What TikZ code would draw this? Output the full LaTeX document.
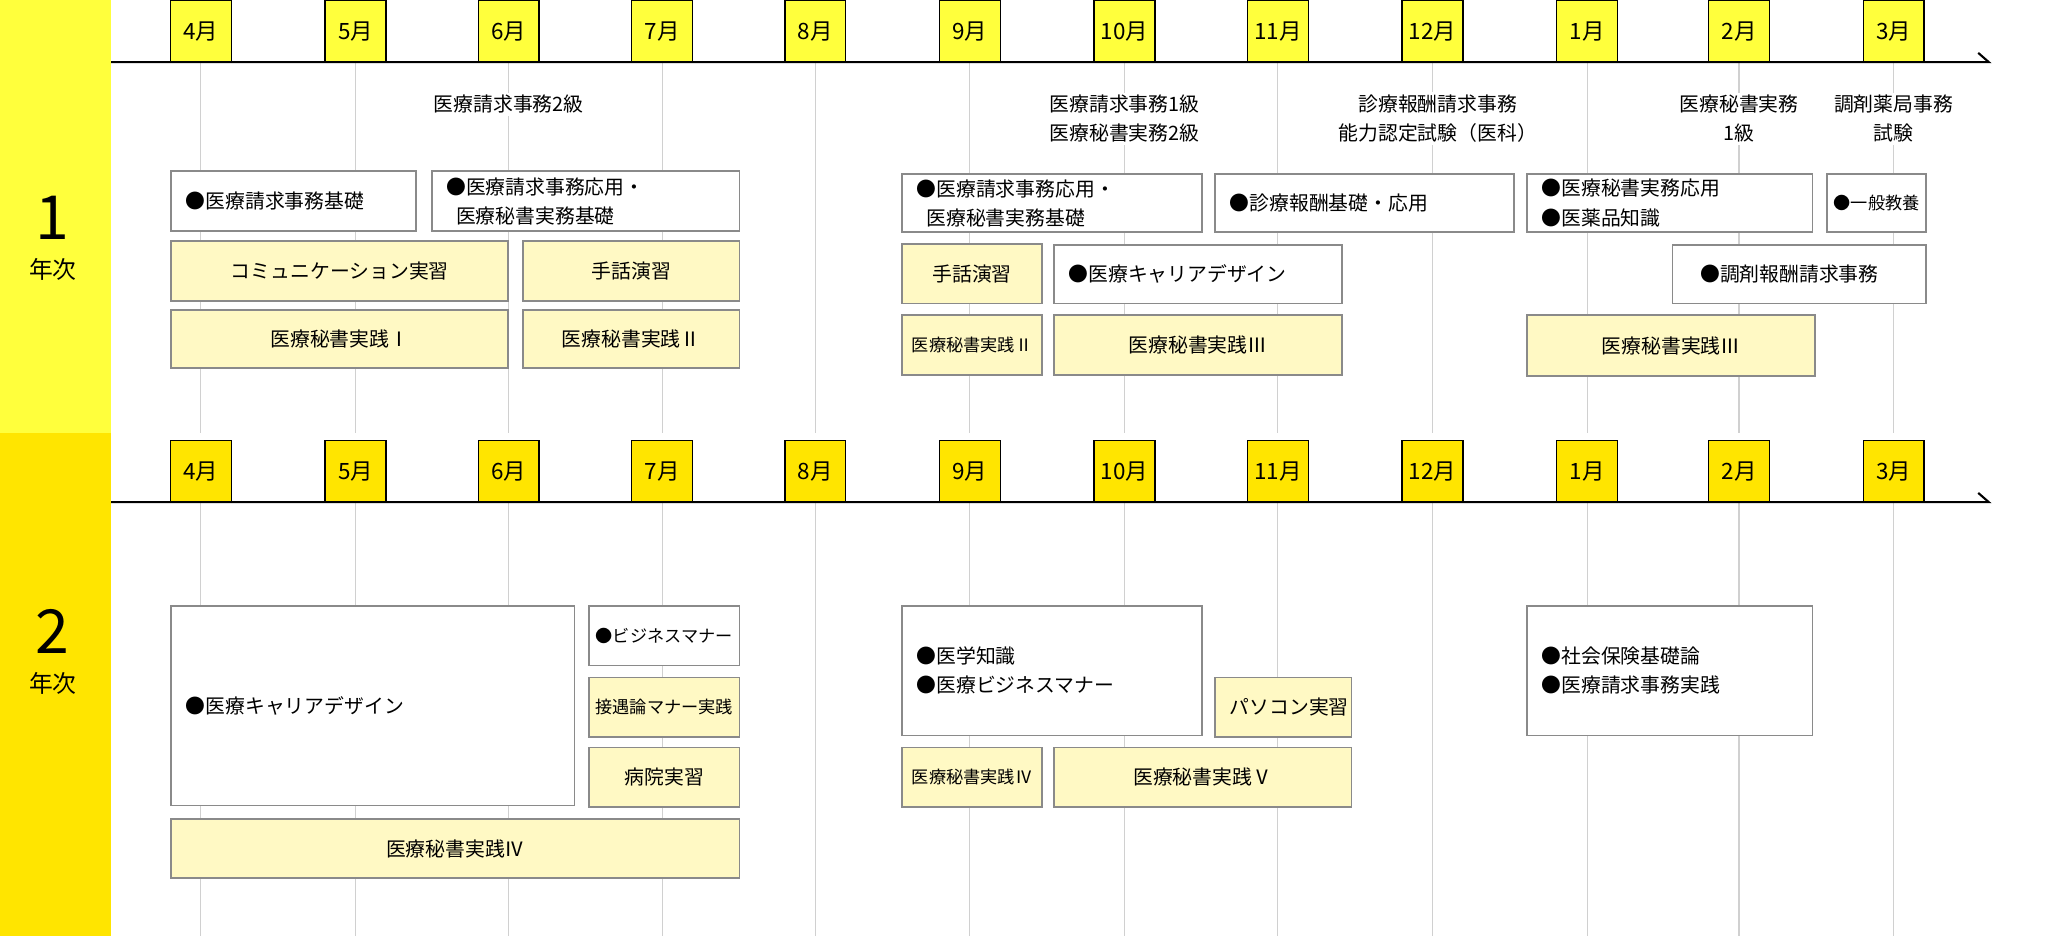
\documentclass[tikz,border=0pt]{standalone}
\usepackage{fontspec}
\setmainfont{Noto Sans CJK JP}
\definecolor{yA}{HTML}{FFFF3C}
\definecolor{yB}{HTML}{FFE500}
\definecolor{lt}{HTML}{FFF9C4}
\definecolor{bd}{HTML}{8A8A8A}
\definecolor{gl}{HTML}{D0D0D0}
\tikzset{
 every node/.style={font=\fontsize{15}{22}\selectfont,inner sep=0pt},
 wbox/.style={draw=bd,line width=1.3pt,fill=white,align=left},
 lbox/.style={draw=bd,line width=1.3pt,fill=lt,align=center},
 mon/.style={draw=black,line width=1pt,minimum width=46pt,minimum height=47pt,anchor=north,font=\fontsize{17}{20}\selectfont},
 exam/.style={fill=white,align=center,inner sep=2pt},
 sm/.style={font=\fontsize{13}{18}\selectfont},
}
\newcommand\bx[7]{\node[#1,anchor=north west,minimum width=#5pt-#3pt,minimum height=#6pt-#4pt,text width=#5pt-#3pt-22pt] (#2) at (#3,#4) {};
 \node[#1,draw=none,fill=none,text width=#5pt-#3pt-22pt] (#2t) at (#2.center) {#7};}
\begin{document}
\begin{tikzpicture}[x=1pt,y=-1pt]
\useasboundingbox (0,0) rectangle (1568,708);
\fill[yA] (0,0) rectangle (84,328);
\fill[yB] (0,328) rectangle (84,708);
\node (y1) at (40,165) {\fontsize{46}{46}\selectfont 1};
\node (y1b) at (40,204) {\fontsize{18}{20}\selectfont 年次};
\node (y2) at (40,478) {\fontsize{46}{46}\selectfont 2};
\node (y2b) at (40,517) {\fontsize{18}{20}\selectfont 年次};
\foreach \x/\m [count=\i] in {152/4,269/5,385/6,501/7,617/8,734/9,851/10,967/11,1084/12,1201/1,1316/2,1433/3}{
 \draw[gl,line width=0.8pt] (\x,47) -- (\x,328);
 \draw[gl,line width=0.8pt] (\x,380) -- (\x,708);
 \node[mon,fill=yA] (ma\i) at (\x,0) {\m 月};
 \node[mon,fill=yB] (mb\i) at (\x,333) {\m 月};
}
\coordinate (la) at (84,47); \coordinate (lb) at (1505,47);
\draw[line width=1.6pt] (la) -- (lb) -- ++(-8,-7);
\coordinate (lc) at (84,380); \coordinate (ld) at (1505,380);
\draw[line width=1.6pt] (lc) -- (ld) -- ++(-8,-7);
% exams
\node[exam] (e1) at (385,79) {医療請求事務2級};
\node[exam] (e2) at (851,90) {医療請求事務1級\\医療秘書実務2級};
\node[exam] (e3) at (1088,90) {診療報酬請求事務\\能力認定試験（医科）};
\node[exam] (e4) at (1316,90) {医療秘書実務\\1級};
\node[exam] (e5) at (1433,90) {調剤薬局事務\\試験};
% year 1 boxes
\bx{wbox}{a1}{129}{129}{314}{174}{●医療請求事務基礎}
\bx{wbox}{a2}{326}{129}{559}{174}{●医療請求事務応用・\\\ \,医療秘書実務基礎}
\bx{lbox}{a3}{129}{182}{384}{227}{コミュニケーション実習}
\bx{lbox}{a4}{395}{182}{559}{227}{手話演習}
\bx{lbox}{a5}{129}{234}{384}{278}{医療秘書実践Ⅰ}
\bx{lbox}{a6}{395}{234}{559}{278}{医療秘書実践Ⅱ}
\bx{wbox}{b1}{682}{131}{909}{175}{●医療請求事務応用・\\\ \,医療秘書実務基礎}
\bx{wbox}{b2}{919}{131}{1145}{175}{●診療報酬基礎・応用}
\bx{wbox}{b3}{1155}{131}{1371}{175}{●医療秘書実務応用\\●医薬品知識}
\node[wbox,anchor=north west,minimum width=75pt,minimum height=44pt] (b4) at (1382,131) {};
\node[sm] (b4t) at (b4.center) {●一般教養};
\bx{lbox}{b5}{682}{184}{788}{229}{手話演習}
\bx{wbox}{b6}{797}{185}{1015}{229}{●医療キャリアデザイン}
\bx{wbox}{b7}{1265}{185}{1457}{229}{\ \ ●調剤報酬請求事務}
\node[lbox,anchor=north west,minimum width=106pt,minimum height=45pt] (b8) at (682,238) {};
\node[sm] (b8t) at (b8.center) {医療秘書実践Ⅱ};
\bx{lbox}{b9}{797}{238}{1015}{283}{医療秘書実践Ⅲ}
\bx{lbox}{b10}{1155}{238}{1373}{284}{医療秘書実践Ⅲ}
% year 2
\bx{wbox}{c1}{129}{458}{434}{609}{●医療キャリアデザイン}
\node[wbox,anchor=north west,minimum width=114pt,minimum height=45pt] (c2) at (445,458) {};
\node[sm] (c2t) at (c2.center) {●ビジネスマナー};
\node[lbox,anchor=north west,minimum width=114pt,minimum height=45pt] (c3) at (445,512) {};
\node[sm] (c3t) at (c3.center) {接遇論マナー実践};
\bx{lbox}{c4}{445}{565}{559}{610}{病院実習}
\bx{lbox}{c5}{129}{619}{559}{664}{医療秘書実践Ⅳ}
\bx{wbox}{d1}{682}{458}{909}{556}{●医学知識\\●医療ビジネスマナー}
\bx{lbox}{d2}{919}{512}{1022}{557}{パソコン実習}
\node[lbox,anchor=north west,minimum width=106pt,minimum height=45pt] (d3) at (682,565) {};
\node[sm] (d3t) at (d3.center) {医療秘書実践Ⅳ};
\bx{lbox}{d4}{797}{565}{1022}{610}{医療秘書実践Ⅴ}
\bx{wbox}{d5}{1155}{458}{1371}{556}{●社会保険基礎論\\●医療請求事務実践}
\end{tikzpicture}
\end{document}
